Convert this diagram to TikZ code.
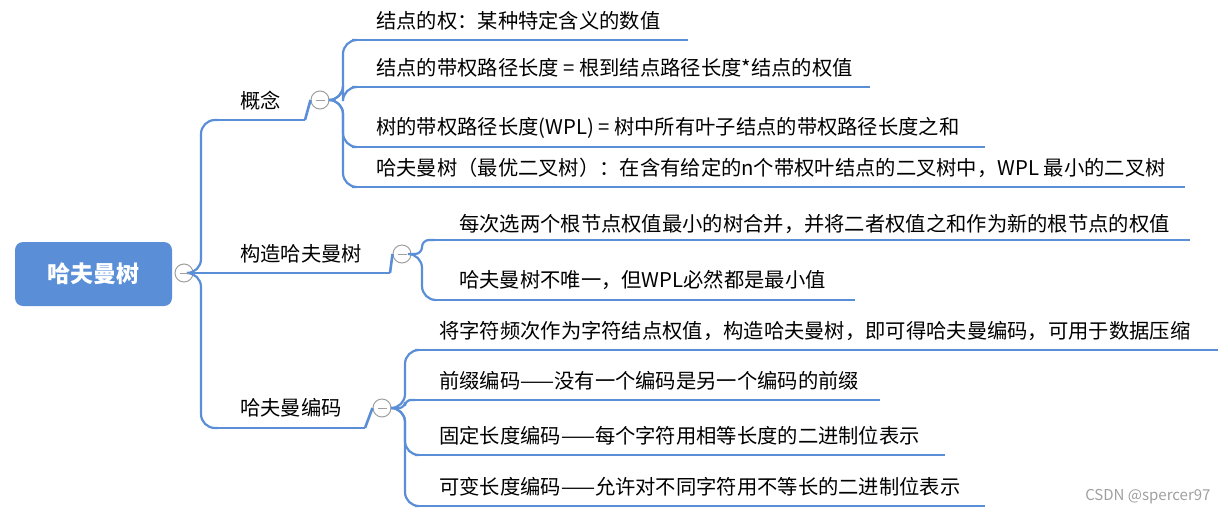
\documentclass[tikz,border=0pt]{standalone}
\usepackage{fontspec}
\setmainfont{Noto Sans CJK SC}
\begin{document}
\begin{tikzpicture}[x=1pt,y=-1pt,
  lbl/.style={anchor=west, inner sep=0pt, font=\fontsize{20.3}{22}\selectfont},
  mc/.style={circle, draw=gray!75, fill=white, line width=1pt, minimum size=18pt, inner sep=0pt}]
\useasboundingbox (0,0) rectangle (1228,520);
\definecolor{bl}{HTML}{5A8FD8}
\tikzset{ln/.style={draw=bl, line width=2.2pt, rounded corners=14pt}, ul/.style={draw=bl, line width=2.6pt}}
% root
\node[fill=bl, rounded corners=8pt, minimum width=157pt, minimum height=64pt, text=white, font=\fontsize{23}{25}\selectfont\bfseries] (root) at (93.5,274) {哈夫曼树};
% level 1 underlines
\coordinate (a1) at (218,120); \coordinate (a2) at (305,120);
\coordinate (b1) at (218,273); \coordinate (b2) at (390,273);
\coordinate (c1) at (218,428); \coordinate (c2) at (365,428);
\draw[ul] (a1)--(a2); \draw[ul] (b1)--(b2); \draw[ul] (c1)--(c2);
\node[lbl] (ta) at (240,101) {概念};
\node[lbl] (tb) at (240,254) {构造哈夫曼树};
\node[lbl] (tc) at (240,408) {哈夫曼编码};
\node[mc] (m0) at (184,273) {};
\draw[ln] (m0.east) -- (b1);
\draw[ln] (m0.east) -- (201,273) |- (a1);
\draw[ln] (m0.east) -- (201,273) |- (c1);
% concept leaves
\foreach \y/\e/\t [count=\i] in {40/688/{结点的权：某种特定含义的数值},
  87/870/{结点的带权路径长度 = 根到结点路径长度*结点的权值},
  147/985/{树的带权路径长度(WPL) = 树中所有叶子结点的带权路径长度之和},
  187/1185/{哈夫曼树（最优二叉树）：在含有给定的n个带权叶结点的二叉树中，WPL 最小的二叉树}}{
  \coordinate (pa\i) at (352,\y);
  \draw[ul] (pa\i) -- (\e,\y);
  \node[lbl] (la\i) at (376,\y-19) {\t};
}
\node[mc] (m1) at (320,100) {};
\draw[ul] (a2) -- (m1.west);
\foreach \i in {1,...,4} \draw[ln] (m1.east) -- (343,100) |- (pa\i);
% construct leaves
\foreach \y/\e/\t [count=\i] in {240/1190/{每次选两个根节点权值最小的树合并，并将二者权值之和作为新的根节点的权值},
  300/855/{哈夫曼树不唯一，但WPL必然都是最小值}}{
  \coordinate (pb\i) at (435,\y);
  \draw[ul] (pb\i) -- (\e,\y);
  \node[lbl] (lb\i) at (459,\y-12-\i*4) {\t};
}
\node[mc] (m2) at (402,254) {};
\draw[ul] (b2) -- (m2.west);
\draw[ln, rounded corners=7pt] (m2.east) -- (422,254) |- (pb1);
\draw[ln] (m2.east) -- (422,254) |- (pb2);
% coding leaves
\foreach \y/\e/\t [count=\i] in {350/1218/{将字符频次作为字符结点权值，构造哈夫曼树，即可得哈夫曼编码，可用于数据压缩},
  400/880/{前缀编码——没有一个编码是另一个编码的前缀},
  455/945/{固定长度编码——每个字符用相等长度的二进制位表示},
  506/985/{可变长度编码——允许对不同字符用不等长的二进制位表示}}{
  \coordinate (pc\i) at (415,\y);
  \draw[ul] (pc\i) -- (\e,\y);
  \node[lbl] (lc\i) at (439,\y-19) {\t};
}
\node[mc] (m3) at (382,408) {};
\draw[ul] (c2) -- (m3.west);
\draw[ln] (m3.east) -- (405,408) |- (pc1);
\draw[ln, rounded corners=6pt] (m3.east) -- (405,408) |- (pc2);
\draw[ln] (m3.east) -- (405,408) |- (pc3);
\draw[ln] (m3.east) -- (405,408) |- (pc4);
% minus signs
\foreach \m in {m0,m1,m2,m3} \draw[gray!75, line width=1pt] ([xshift=-4.5pt]\m.center) -- ([xshift=4.5pt]\m.center);
\node[anchor=east, text=gray!75, font=\fontsize{15}{17}\selectfont] (wm) at (1214,497) {CSDN @spercer97};
\end{tikzpicture}
\end{document}
